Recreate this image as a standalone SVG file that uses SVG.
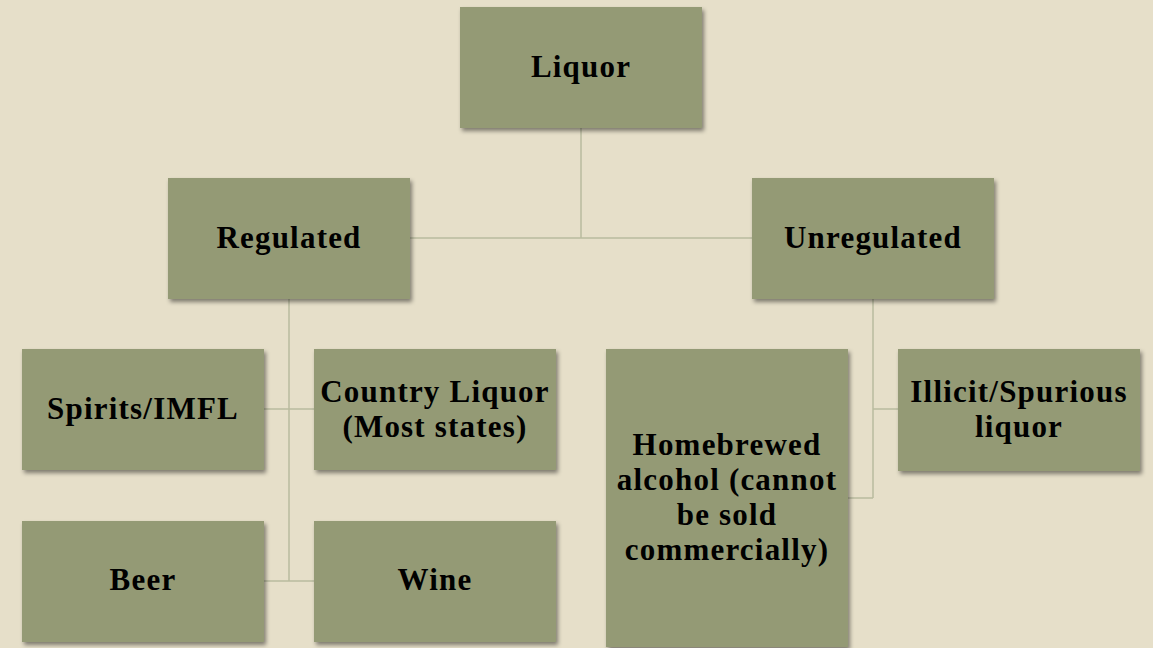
<svg xmlns="http://www.w3.org/2000/svg" width="1153" height="648" viewBox="0 0 1153 648">
<defs>
<filter id="sh" x="-10%" y="-10%" width="125%" height="125%">
<feDropShadow dx="2" dy="3" stdDeviation="2" flood-color="#000" flood-opacity="0.45"/>
</filter>
<style>
.box{fill:#949A74;filter:url(#sh)}
.t{font-family:"Liberation Serif","Times New Roman",serif;font-weight:bold;font-size:31px;fill:#000;text-anchor:middle;letter-spacing:1.2px}
.c{stroke:#B9BC9E;stroke-width:1.5;fill:none}
</style>
</defs>
<rect width="1153" height="648" fill="#E6DFC9"/>
<g id="connectors">
<path class="c" d="M581,128V238M410,238H752"/>
<path class="c" d="M289,299V581M264,409H314M264,581H314"/>
<path class="c" d="M873,299V498M873,409H898M848,498H873"/>
</g>
<g id="liquor"><rect class="box" x="460" y="7" width="242" height="121"/><text class="t" x="581" y="77">Liquor</text></g>
<g id="regulated"><rect class="box" x="168" y="178" width="242" height="121"/><text class="t" x="289" y="248">Regulated</text></g>
<g id="unregulated"><rect class="box" x="752" y="178" width="242" height="121"/><text class="t" x="873" y="248">Unregulated</text></g>
<g id="spirits"><rect class="box" x="22" y="349" width="242" height="121"/><text class="t" x="143" y="419">Spirits/IMFL</text></g>
<g id="country"><rect class="box" x="314" y="349" width="242" height="121"/><text class="t" x="435" y="402">Country Liquor</text><text class="t" x="435" y="437">(Most states)</text></g>
<g id="beer"><rect class="box" x="22" y="521" width="242" height="121"/><text class="t" x="143" y="590">Beer</text></g>
<g id="wine"><rect class="box" x="314" y="521" width="242" height="121"/><text class="t" x="435" y="590">Wine</text></g>
<g id="homebrewed"><rect class="box" x="606" y="349" width="242" height="298"/><text class="t" x="727" y="455">Homebrewed</text><text class="t" x="727" y="490">alcohol (cannot</text><text class="t" x="727" y="525">be sold</text><text class="t" x="727" y="560">commercially)</text></g>
<g id="illicit"><rect class="box" x="898" y="349" width="242" height="122"/><text class="t" x="1019" y="402">Illicit/Spurious</text><text class="t" x="1019" y="437">liquor</text></g>
</svg>
